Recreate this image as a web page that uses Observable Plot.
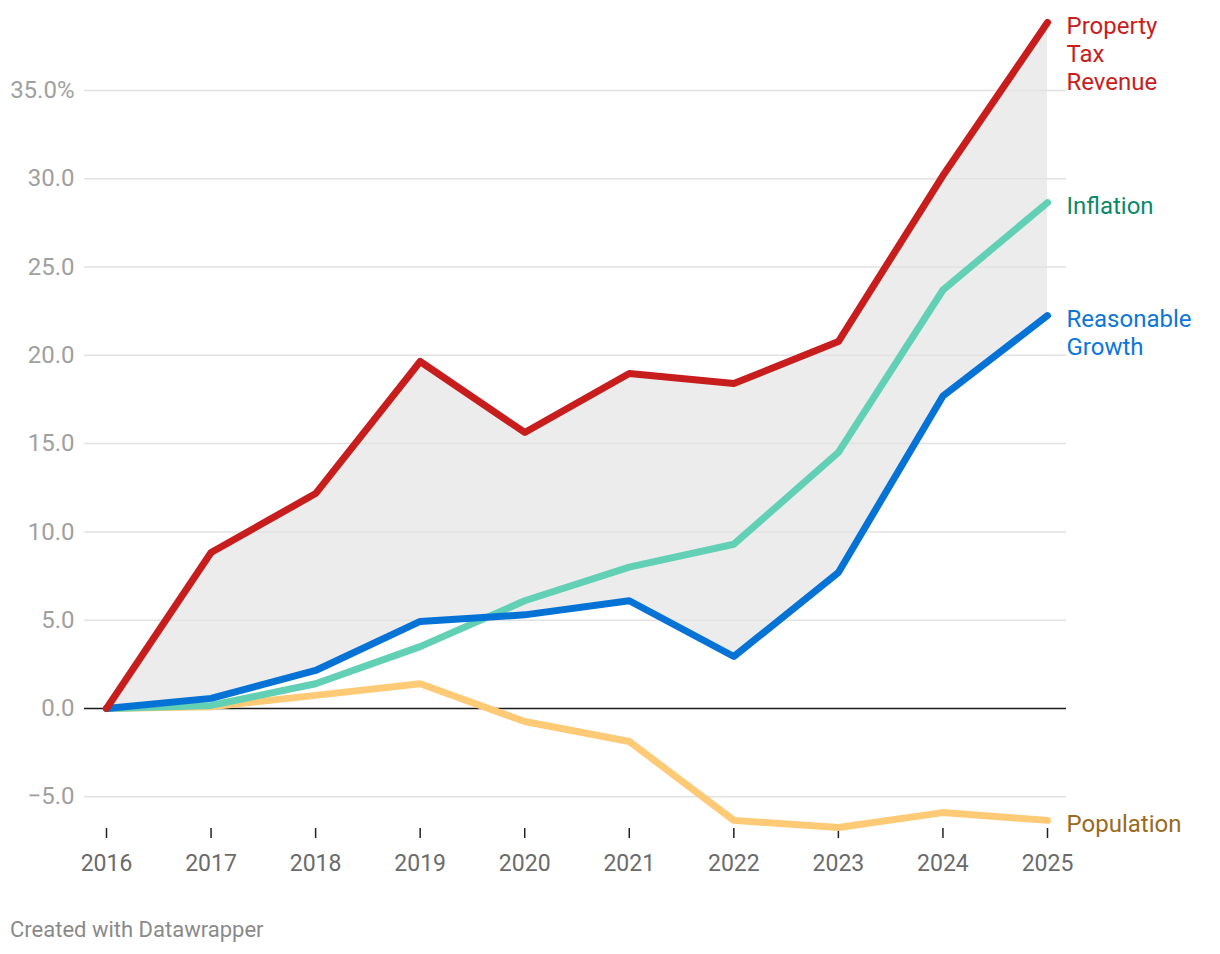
<!DOCTYPE html>
<html>
<head>
<meta charset="utf-8">
<script src="https://cdn.jsdelivr.net/npm/d3@7"></script>
<script src="https://cdn.jsdelivr.net/npm/@observablehq/plot@0.6"></script>
<style>
  body { margin: 0; background: #fff; font-family: Roboto, "Noto Sans", sans-serif; }
  #caption { margin: 12px 0 0 10px; font-size: 22px; color: #8a8a8a; line-height: 26px; }
  svg { display: block; }
</style>
</head>
<body>
<div id="chart"></div>
<div id="caption">Created with Datawrapper</div>
<script>
const years = [2016, 2017, 2018, 2019, 2020, 2021, 2022, 2023, 2024, 2025];
const propertyTax = [0, 8.83, 12.17, 19.65, 15.63, 18.97, 18.4, 20.78, 30.18, 38.85];
const inflation = [0, 0.17, 1.4, 3.5, 6.1, 8.0, 9.3, 14.5, 23.7, 28.65];
const reasonableGrowth = [0, 0.57, 2.15, 4.93, 5.3, 6.1, 2.94, 7.7, 17.7, 22.25];
const population = [0, 0.1, 0.74, 1.4, -0.74, -1.87, -6.34, -6.74, -5.9, -6.34];
const yTicks = [-5, 0, 5, 10, 15, 20, 25, 30, 35];

const seriesNames = ["Population", "Inflation", "Reasonable Growth", "Property Tax Revenue"];
const seriesLabels = ["Population", "Inflation", "Reasonable\nGrowth", "Property\nTax\nRevenue"];
const seriesValues = [population, inflation, reasonableGrowth, propertyTax];
const lineColors = ["#ffca76", "#61d0b5", "#0573d6", "#c71e1d"];
const labelColors = ["#9a6a1e", "#0a8a68", "#0b77d8", "#c71e1d"];

const rows = [];
seriesNames.forEach((s, i) => years.forEach((y, j) => rows.push({series: s, year: y, value: seriesValues[i][j]})));
const band = years.map((y, j) => ({year: y, lo: reasonableGrowth[j], hi: propertyTax[j]}));
const ends = seriesNames.map((s, i) => ({series: s, label: seriesLabels[i], year: years[years.length - 1], value: seriesValues[i][years.length - 1], color: labelColors[i]}));

const fmtY = d => (d === 35 ? "35.0%" : (d < 0 ? "\u2212" + Math.abs(d).toFixed(1) : d.toFixed(1)));

const chart = Plot.plot({
  width: 1220,
  height: 905,
  marginLeft: 106,
  marginRight: 173,
  marginTop: 19,
  marginBottom: 77,
  style: {fontFamily: "Roboto, sans-serif", fontSize: "24px", background: "#fff"},
  x: {domain: [2016, 2025], ticks: years, tickFormat: d => String(d), label: null},
  y: {domain: [-6.8, 39.02], label: null},
  color: {domain: seriesNames, range: lineColors},
  marks: [
    Plot.areaY(band, {x: "year", y1: "lo", y2: "hi", fill: "#ececec"}),
    Plot.ruleY(yTicks.filter(d => d !== 0), {stroke: "#e2e2e2", strokeWidth: 1.5, insetLeft: -22, insetRight: -19}),
    Plot.ruleY([0], {stroke: "#1a1a1a", strokeWidth: 1.6, insetLeft: -22, insetRight: -19}),
    Plot.axisY({ticks: yTicks, tickSize: 0, tickPadding: 32, tickFormat: fmtY, fill: "#a0a0a0", fontSize: 24, label: null}),
    Plot.axisX({ticks: years, tickSize: 10, tickPadding: 16, stroke: "#222", strokeWidth: 1.5, fill: "#6b6b6b", fontSize: 23, label: null, tickFormat: d => String(d)}),
    Plot.line(rows, {x: "year", y: "value", z: "series", stroke: "series", strokeWidth: 7, strokeLinecap: "round", strokeLinejoin: "round"}),
    Plot.text(ends, {x: "year", y: "value", text: "label", fill: "color", dx: 19, dy: -8.5, textAnchor: "start", lineAnchor: "top", lineHeight: 1.167, fontSize: 24})
  ]
});
document.getElementById("chart").appendChild(chart);
</script>
</body>
</html>
